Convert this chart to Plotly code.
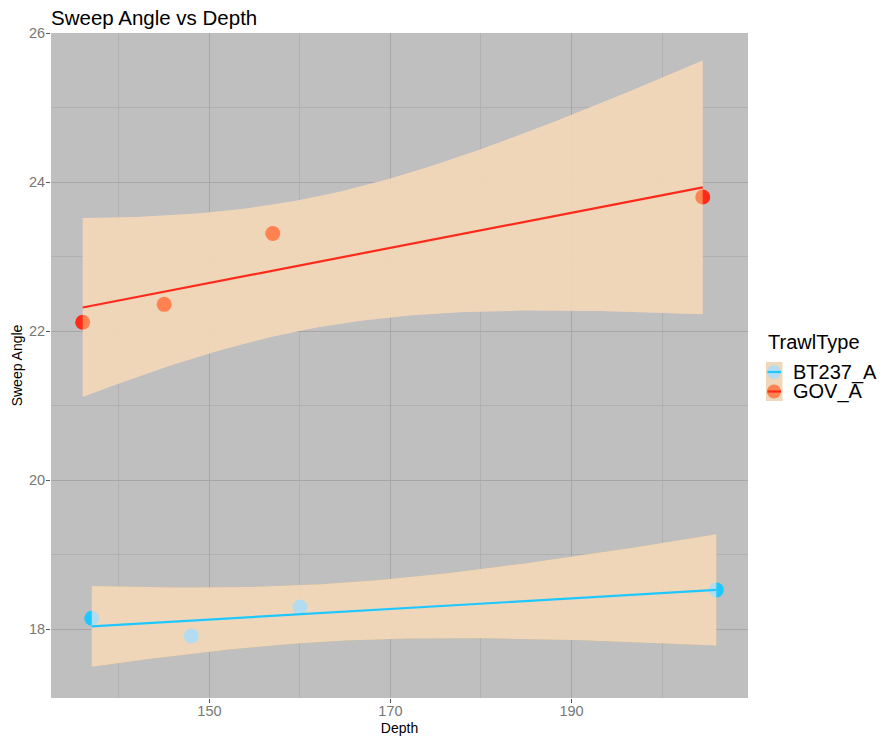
import numpy as np
import plotly.graph_objects as go

# ---- data ----
groups = ["BT237_A", "GOV_A"]
bt_depth = [137, 148, 160, 206]
bt_angle = [18.15, 17.91, 18.30, 18.53]
gov_depth = [136, 145, 157, 204.5]
gov_angle = [22.12, 22.36, 23.31, 23.80]

x_ticks = [150, 170, 190]
y_ticks = [18, 20, 22, 24, 26]
legend_title = "TrawlType"

# ---- styles ----
point_colors = {"BT237_A": "#1EC8FF", "GOV_A": "#FF2A1A"}
key_colors = {"BT237_A": "#B4DCF0", "GOV_A": "#FF8250"}
# two-layer ribbon: an under-layer (below points) and a tinting over-layer
ribbon_under = {"BT237_A": "rgba(214,183,66,0.8)", "GOV_A": "rgba(237,198,223,0.8)"}
ribbon_over = {"BT237_A": "rgba(255,230,232,0.667)", "GOV_A": "rgba(255,237,146,0.45)"}
legend_key_bg = "#EFD8B9"
T975_DF2 = 4.302652729911275


def lm_band(x, y, n=80):
    x = np.asarray(x, float)
    y = np.asarray(y, float)
    b, a = np.polyfit(x, y, 1)
    resid = y - (a + b * x)
    s = np.sqrt(np.sum(resid ** 2) / (len(x) - 2))
    sxx = np.sum((x - x.mean()) ** 2)
    xs = np.linspace(x.min(), x.max(), n)
    fit = a + b * xs
    se = s * np.sqrt(1 / len(x) + (xs - x.mean()) ** 2 / sxx)
    return xs, fit, fit - T975_DF2 * se, fit + T975_DF2 * se


data = {"BT237_A": (bt_depth, bt_angle), "GOV_A": (gov_depth, gov_angle)}
bands = {g: lm_band(*data[g]) for g in groups}

fig = go.Figure()


def ribbon(g, color):
    xs, fit, lo, hi = bands[g]
    return go.Scatter(x=np.concatenate([xs, xs[::-1]]),
                      y=np.concatenate([hi, lo[::-1]]),
                      fill="toself", fillcolor=color,
                      line=dict(width=0), mode="lines",
                      showlegend=False, hoverinfo="skip")


for g in groups:
    fig.add_trace(ribbon(g, ribbon_under[g]))

for g in groups:
    xd, yd = data[g]
    fig.add_trace(go.Scatter(x=xd, y=yd, mode="markers", name=g,
                             marker=dict(size=15, color=point_colors[g]),
                             showlegend=False))

for g in groups:
    fig.add_trace(ribbon(g, ribbon_over[g]))

for g in groups:
    xs, fit, lo, hi = bands[g]
    fig.add_trace(go.Scatter(x=xs, y=fit, mode="lines",
                             line=dict(color=point_colors[g], width=2.2),
                             showlegend=False, hoverinfo="skip"))

# ---- manual legend (ggplot style) ----
L, T, PW, PH = 51, 33, 697, 665


def px(xp):
    return (xp - L) / PW


def py(yp):
    return (T + PH - yp) / PH


shapes = [dict(type="rect", xref="paper", yref="paper",
               x0=px(766), x1=px(782.5), y0=py(401), y1=py(362),
               fillcolor=legend_key_bg, line=dict(width=0), layer="above")]
annotations = [dict(text=legend_title, xref="paper", yref="paper",
                    x=px(766), y=py(342), xanchor="left", yanchor="middle",
                    showarrow=False, font=dict(size=20, color="#000000"))]
for i, g in enumerate(groups):
    cy = 372 + i * 19.5
    shapes.append(dict(type="circle", xref="paper", yref="paper",
                       xsizemode="pixel", ysizemode="pixel",
                       xanchor=px(774), yanchor=py(cy),
                       x0=-7, x1=7, y0=-7, y1=7,
                       fillcolor=key_colors[g], line=dict(width=0),
                       layer="above"))
    shapes.append(dict(type="line", xref="paper", yref="paper",
                       x0=px(767.5), x1=px(781), y0=py(cy), y1=py(cy),
                       line=dict(color=point_colors[g], width=2.2),
                       layer="above"))
    annotations.append(dict(text=g, xref="paper", yref="paper",
                            x=px(791), y=py(cy), xanchor="left",
                            yanchor="middle", showarrow=False,
                            font=dict(size=20, color="#000000")))

fig.update_layout(
    width=882, height=736,
    margin=dict(l=L, r=882 - L - PW, t=T, b=736 - T - PH),
    paper_bgcolor="white",
    plot_bgcolor="#BFBFBF",
    showlegend=False,
    font=dict(family="Liberation Sans, Arial, sans-serif", color="#000000"),
    title=dict(text="Sweep Angle vs Depth", x=px(51), xref="paper",
               xanchor="left", y=1 - 17.5 / 736, yanchor="middle",
               font=dict(size=20.5, color="#000000")),
    shapes=shapes,
    annotations=annotations,
    xaxis=dict(range=[132.5, 209.5], tickvals=x_ticks,
               ticktext=[str(v) for v in x_ticks], automargin=False,
               showgrid=True, gridcolor="#A6A6A6", gridwidth=1,
               zeroline=False, showline=False,
               ticks="outside", ticklen=4, tickcolor="#555555",
               tickfont=dict(size=14.5, color="#777777"),
               ticklabelstandoff=-4,
               minor=dict(dtick=10, tick0=130, showgrid=True,
                          gridcolor="#B1B1B1", gridwidth=1),
               title=dict(text="Depth", font=dict(size=14), standoff=6)),
    yaxis=dict(range=[17.08, 26.0], tickvals=y_ticks,
               ticktext=[str(v) for v in y_ticks], automargin=False,
               showgrid=True, gridcolor="#A6A6A6", gridwidth=1,
               zeroline=False, showline=False,
               ticks="outside", ticklen=4, tickcolor="#555555",
               tickfont=dict(size=14.5, color="#777777"),
               ticklabelstandoff=-2,
               minor=dict(dtick=1, tick0=17, showgrid=True,
                          gridcolor="#B1B1B1", gridwidth=1),
               title=dict(text="Sweep Angle", font=dict(size=14), standoff=3)),
)

fig.write_html("out.html", config={"displayModeBar": False},
               post_script="document.body.style.margin='0';"
                           "document.body.style.overflow='hidden';")
